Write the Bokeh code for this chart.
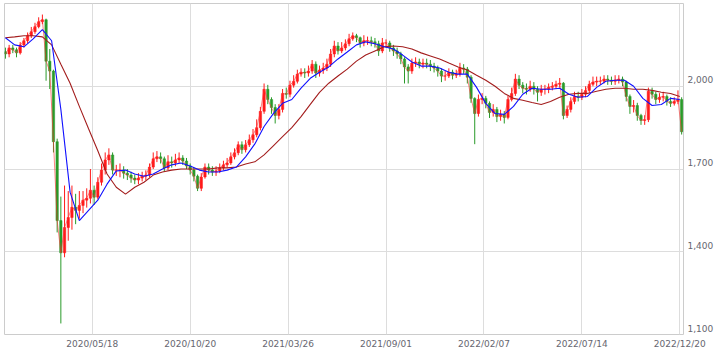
from bokeh.plotting import figure
from bokeh.models import FixedTicker, Range1d, NumeralTickFormatter, ColumnDataSource
from bokeh.embed import file_html
from bokeh.resources import INLINE

# ---- data (~4 trading days per candle) ----
first_open = 2125
close = [2117, 2139, 2132, 2121, 2150, 2165, 2183, 2198, 2216, 2234,
         2241, 2091, 2055, 1799, 1513, 1396, 1488, 1524, 1561, 1550,
         1568, 1587, 1594, 1623, 1598, 1652, 1696, 1733, 1751, 1696,
         1696, 1696, 1685, 1678, 1667, 1660, 1667, 1674, 1678, 1707,
         1737, 1744, 1737, 1704, 1726, 1722, 1733, 1740, 1729, 1711,
         1696, 1674, 1630, 1671, 1707, 1696, 1689, 1693, 1704, 1715,
         1722, 1744, 1759, 1788, 1770, 1788, 1806, 1824, 1850, 1909,
         1989, 1952, 1923, 1894, 1916, 1974, 1971, 2004, 2018, 2044,
         2051, 2048, 2055, 2080, 2048, 2059, 2066, 2080, 2117, 2146,
         2128, 2139, 2154, 2172, 2183, 2176, 2157, 2165, 2165, 2161,
         2154, 2128, 2157, 2157, 2139, 2128, 2117, 2099, 2070, 2055,
         2084, 2088, 2080, 2084, 2080, 2073, 2066, 2055, 2037, 2037,
         2051, 2040, 2044, 2066, 2062, 2033, 1956, 1901, 1952, 1956,
         1938, 1905, 1916, 1890, 1898, 1887, 1952, 1974, 2026, 2004,
         1993, 1989, 2000, 1989, 1978, 1989, 1989, 1996, 2000, 2007,
         2011, 1894, 1916, 1945, 1963, 1960, 1971, 1985, 2007, 2015,
         2018, 2018, 2026, 2022, 2018, 2022, 2026, 2015, 1963, 1927,
         1930, 1894, 1876, 1879, 1982, 1971, 1952, 1960, 1963, 1945,
         1938, 1945, 1952, 1835]
high = [2140, 2150, 2150, 2140, 2160, 2175, 2195, 2215, 2230, 2250,
        2260, 2245, 2135, 2060, 1810, 1600, 1640, 1620, 1640, 1610,
        1620, 1620, 1630, 1700, 1640, 1670, 1720, 1760, 1775, 1760,
        1715, 1720, 1710, 1700, 1690, 1680, 1685, 1690, 1695, 1720,
        1760, 1765, 1760, 1745, 1750, 1745, 1755, 1760, 1750, 1740,
        1720, 1705, 1680, 1685, 1720, 1720, 1710, 1710, 1720, 1730,
        1740, 1760, 1775, 1800, 1800, 1805, 1825, 1845, 1880, 1925,
        2010, 2005, 1960, 1935, 1935, 1990, 1995, 2020, 2040, 2060,
        2065, 2065, 2075, 2095, 2090, 2075, 2085, 2100, 2135, 2165,
        2160, 2160, 2170, 2190, 2195, 2190, 2180, 2185, 2180, 2180,
        2175, 2165, 2175, 2170, 2165, 2150, 2140, 2125, 2105, 2080,
        2100, 2105, 2100, 2100, 2100, 2095, 2085, 2075, 2065, 2055,
        2065, 2060, 2060, 2085, 2080, 2070, 2040, 1960, 1970, 1975,
        1965, 1945, 1935, 1925, 1915, 1910, 1965, 1995, 2045, 2040,
        2015, 2010, 2020, 2015, 2000, 2005, 2005, 2010, 2015, 2020,
        2030, 2015, 1930, 1960, 1980, 1980, 1990, 2000, 2020, 2035,
        2035, 2035, 2040, 2040, 2035, 2040, 2040, 2035, 2020, 1970,
        1950, 1940, 1900, 1895, 1995, 1995, 1980, 1975, 1980, 1970,
        1960, 1960, 1985, 1960]
low = [2100, 2105, 2120, 2105, 2115, 2140, 2155, 2175, 2190, 2210,
       2225, 2020, 1990, 1760, 1470, 1140, 1380, 1440, 1480, 1500,
       1520, 1540, 1560, 1575, 1570, 1590, 1640, 1680, 1715, 1680,
       1675, 1670, 1665, 1660, 1650, 1645, 1645, 1655, 1660, 1670,
       1700, 1725, 1720, 1690, 1695, 1705, 1710, 1720, 1715, 1700,
       1680, 1655, 1620, 1620, 1665, 1680, 1675, 1675, 1685, 1695,
       1705, 1715, 1735, 1750, 1755, 1760, 1780, 1795, 1815, 1840,
       1900, 1935, 1900, 1865, 1880, 1905, 1955, 1960, 1995, 2010,
       2035, 2030, 2035, 2045, 2030, 2035, 2045, 2055, 2070, 2105,
       2115, 2120, 2130, 2145, 2165, 2160, 2140, 2145, 2150, 2145,
       2140, 2110, 2120, 2140, 2125, 2110, 2100, 2080, 2010, 2010,
       2045, 2070, 2065, 2065, 2065, 2055, 2050, 2035, 2015, 2020,
       2030, 2025, 2030, 2035, 2045, 2010, 1940, 1790, 1890, 1935,
       1920, 1885, 1890, 1870, 1875, 1865, 1880, 1945, 1965, 1990,
       1975, 1970, 1980, 1970, 1945, 1965, 1970, 1975, 1985, 1990,
       1995, 1880, 1885, 1905, 1935, 1945, 1950, 1960, 1975, 2000,
       2000, 2005, 2010, 2005, 2005, 2005, 2010, 2000, 1945, 1900,
       1905, 1875, 1860, 1860, 1870, 1955, 1935, 1940, 1945, 1930,
       1925, 1930, 1935, 1825]
open_ = [first_open] + close[:-1]
bar_idx = list(range(1, 1 + 4 * len(close), 4))   # trading-day index

ma25 = [2176, 2150, 2143, 2172, 2205, 2165, 1916, 1616, 1513, 1550,
        1587, 1645, 1693, 1696, 1682, 1674, 1682, 1700, 1715, 1722,
        1711, 1696, 1689, 1689, 1696, 1707, 1744, 1791, 1854, 1901,
        1938, 1952, 1993, 2029, 2051, 2070, 2099, 2124, 2150, 2161,
        2154, 2143, 2135, 2113, 2088, 2073, 2073, 2066, 2051, 2044,
        2044, 1996, 1938, 1901, 1898, 1927, 1971, 1993, 1989, 1989,
        1993, 1971, 1960, 1963, 1996, 2018, 2022, 2022, 2000, 1956,
        1930, 1934, 1956, 1952]
ma75 = [2176, 2179, 2183, 2183, 2179, 2150, 2080, 2011, 1927, 1846,
        1766, 1682, 1634, 1609, 1634, 1652, 1678, 1689, 1696, 1700,
        1700, 1700, 1700, 1704, 1704, 1707, 1718, 1726, 1751, 1784,
        1817, 1850, 1890, 1934, 1978, 2011, 2037, 2062, 2091, 2113,
        2128, 2143, 2146, 2143, 2135, 2121, 2110, 2099, 2084, 2070,
        2059, 2040, 2022, 2000, 1974, 1956, 1949, 1941, 1934, 1945,
        1960, 1971, 1974, 1974, 1982, 1989, 1993, 1993, 1989, 1989,
        1985, 1978, 1974, 1963]
ma_idx = list(range(1, 1 + 10 * len(ma25), 10))

tick_idx = [95, 201, 307, 413, 519, 625, 731]
tick_labels = ["2020/05/18", "2020/10/20", "2021/03/26", "2021/09/01",
               "2022/02/07", "2022/07/14", "2022/12/20"]
y_ticks = [1100, 1400, 1700, 2000]
y_labels = ["1,100", "1,400", "1,700", "2,000"]

UP = "#ff1a1a"
DOWN = "#2a9a2a"

colors = [UP if c >= o else DOWN for o, c in zip(open_, close)]
src = ColumnDataSource(dict(
    x=bar_idx, o=open_, c=close, h=high, l=low,
    top=[max(o, c) for o, c in zip(open_, close)],
    bot=[min(o, c) for o, c in zip(open_, close)],
    col=colors))

p = figure(width=716, height=351,
           x_range=Range1d(0, 735), y_range=Range1d(1100, 2300),
           output_backend="svg", toolbar_location=None,
           y_axis_location="right",
           min_border_left=4, min_border_top=3,
           min_border_right=0, min_border_bottom=0,
           background_fill_color="white", border_fill_color="white")

p.segment(x0="x", y0="l", x1="x", y1="h", color="col", line_width=1, source=src)
p.vbar(x="x", width=2.6, top="top", bottom="bot", fill_color="col",
       line_color="col", line_width=0.5, source=src)
p.line(bar_idx, close, color="#ff3030", line_width=1, alpha=0.6)

p.line(ma_idx, ma75, color="#a31d1d", line_width=1.1)
p.line(ma_idx, ma25, color="#1010ff", line_width=1.1)

p.xaxis.ticker = FixedTicker(ticks=tick_idx)
p.xaxis.major_label_overrides = {t: l for t, l in zip(tick_idx, tick_labels)}
p.yaxis.ticker = FixedTicker(ticks=y_ticks)
p.yaxis.formatter = NumeralTickFormatter(format="0,0")
# labels sit just above their grid line, as in the reference
p.yaxis.major_label_overrides = {t: l + "\n " for t, l in zip(y_ticks, y_labels)}

for ax in p.axis:
    ax.axis_line_color = None
    ax.major_tick_line_color = None
    ax.minor_tick_line_color = None
    ax.major_tick_out = 0
    ax.major_tick_in = 0
    ax.minor_tick_out = 0
    ax.minor_tick_in = 0
    ax.major_label_text_font = "DejaVu Sans"
    ax.major_label_text_font_size = "9px"
    ax.major_label_text_color = "#666670"
    ax.major_label_standoff = 4

p.xgrid.grid_line_color = "#dddddd"
p.ygrid.grid_line_color = "#dddddd"
p.outline_line_color = "#cccccc"

open("out.html", "w").write(file_html(p, INLINE))
